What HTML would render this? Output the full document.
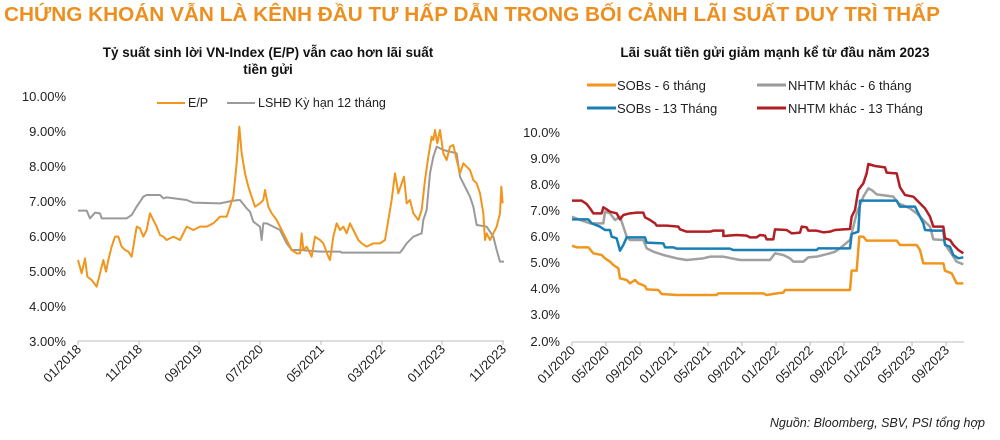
<!DOCTYPE html>
<html><head><meta charset="utf-8"><style>
body{margin:0;background:#fff;}
svg{display:block;font-family:"Liberation Sans",Arial,sans-serif;}
</style></head><body>
<svg width="1000" height="440" viewBox="0 0 1000 440">
<text x="4" y="21" font-size="20" font-weight="bold" fill="#ec8f1f" textLength="936" lengthAdjust="spacingAndGlyphs">CHỨNG KHOÁN VẪN LÀ KÊNH ĐẦU TƯ HẤP DẪN TRONG BỐI CẢNH LÃI SUẤT DUY TRÌ THẤP</text>
<text x="268" y="57" font-size="13.5" font-weight="bold" text-anchor="middle" fill="#111">Tỷ suất sinh lời VN-Index (E/P) vẫn cao hơn lãi suất</text>
<text x="268" y="74" font-size="13.5" font-weight="bold" text-anchor="middle" fill="#111">tiền gửi</text>
<text x="775" y="57" font-size="13.5" font-weight="bold" text-anchor="middle" fill="#111">Lãi suất tiền gửi giảm mạnh kể từ đầu năm 2023</text>

<g font-size="13" fill="#222" text-anchor="end">
<text x="66" y="101">10.00%</text><text x="66" y="136">9.00%</text><text x="66" y="171">8.00%</text><text x="66" y="206">7.00%</text><text x="66" y="241">6.00%</text><text x="66" y="276">5.00%</text><text x="66" y="311">4.00%</text><text x="66" y="346">3.00%</text>
</g>
<line x1="78" y1="341" x2="504" y2="341" stroke="#bbb" stroke-width="1"/>
<g stroke="#bbb"><line x1="78" y1="341" x2="78" y2="345"/><line x1="139" y1="341" x2="139" y2="345"/><line x1="199" y1="341" x2="199" y2="345"/><line x1="260" y1="341" x2="260" y2="345"/><line x1="321" y1="341" x2="321" y2="345"/><line x1="382" y1="341" x2="382" y2="345"/><line x1="442" y1="341" x2="442" y2="345"/><line x1="503" y1="341" x2="503" y2="345"/></g>
<g font-size="13" fill="#222" text-anchor="end">
<text transform="translate(82,350) rotate(-45)">01/2018</text>
<text transform="translate(143,350) rotate(-45)">11/2018</text>
<text transform="translate(203,350) rotate(-45)">09/2019</text>
<text transform="translate(264,350) rotate(-45)">07/2020</text>
<text transform="translate(325,350) rotate(-45)">05/2021</text>
<text transform="translate(386,350) rotate(-45)">03/2022</text>
<text transform="translate(446,350) rotate(-45)">01/2023</text>
<text transform="translate(507,350) rotate(-45)">11/2023</text>
</g>
<line x1="157" y1="103" x2="185" y2="103" stroke="#f0961e" stroke-width="2"/>
<text x="188" y="107" font-size="12.5" fill="#222">E/P</text>
<line x1="227" y1="103" x2="255" y2="103" stroke="#9a9a9a" stroke-width="2"/>
<text x="258" y="107" font-size="12.5" fill="#222">LSHĐ Kỳ hạn 12 tháng</text>

<g transform="translate(0,80) scale(0.33333)" fill="none" stroke-linejoin="round">
<polyline vector-effect="non-scaling-stroke" stroke="#9a9a9a" stroke-width="2" points="234,392 260,392 270,415 285,398 300,400 305,415 380,415 395,405 410,380 430,350 440,345 480,345 490,355 500,352 560,360 580,368 660,370 700,362 720,360 740,385 750,395 760,425 780,440 785,480 790,430 800,430 810,435 820,440 840,450 860,490 875,510 900,510 960,515 1020,515 1025,518 1200,518 1210,505 1220,490 1240,470 1265,460 1270,420 1280,390 1290,280 1300,230 1310,200 1330,210 1370,220 1380,290 1400,330 1410,350 1420,380 1430,435 1460,440 1480,470 1490,510 1500,545 1512,545"/>
<polyline vector-effect="non-scaling-stroke" stroke="#f0961e" stroke-width="2" points="234,540 245,580 255,535 262,590 275,600 290,620 300,580 310,540 318,575 325,540 335,500 345,470 355,470 365,500 375,510 385,515 395,530 405,470 410,440 420,445 430,470 440,450 450,400 460,420 470,440 480,465 490,470 500,480 520,470 540,480 560,440 580,450 600,440 620,440 640,430 660,410 680,410 690,380 700,350 710,250 718,140 725,220 735,280 745,320 755,350 765,380 780,370 790,360 795,330 805,380 815,400 830,420 845,450 860,480 875,510 890,520 900,520 905,460 910,510 920,500 935,530 945,470 960,480 970,490 985,530 990,540 1000,470 1010,430 1020,450 1030,440 1040,460 1050,430 1060,450 1075,480 1085,490 1100,500 1120,490 1140,490 1155,480 1165,420 1175,360 1185,280 1195,340 1205,310 1212,290 1220,370 1230,360 1240,400 1255,420 1265,390 1275,300 1285,230 1295,170 1300,180 1305,150 1312,190 1320,150 1330,220 1340,240 1350,200 1360,195 1370,240 1380,280 1390,250 1400,260 1410,270 1420,300 1430,310 1440,340 1450,400 1455,480 1460,460 1470,480 1480,460 1490,440 1500,400 1504,320 1508,370"/>
</g>

<g font-size="13" fill="#222" text-anchor="end">
<text x="560" y="137">10.0%</text><text x="560" y="163">9.0%</text><text x="560" y="189">8.0%</text><text x="560" y="215">7.0%</text><text x="560" y="241">6.0%</text><text x="560" y="267">5.0%</text><text x="560" y="293">4.0%</text><text x="560" y="319">3.0%</text><text x="560" y="346">2.0%</text>
</g>
<line x1="572" y1="342" x2="964" y2="342" stroke="#bbb"/>
<g stroke="#bbb"><line x1="572" y1="342" x2="572" y2="346"/><line x1="606" y1="342" x2="606" y2="346"/><line x1="640" y1="342" x2="640" y2="346"/><line x1="674" y1="342" x2="674" y2="346"/><line x1="708" y1="342" x2="708" y2="346"/><line x1="742" y1="342" x2="742" y2="346"/><line x1="776" y1="342" x2="776" y2="346"/><line x1="810" y1="342" x2="810" y2="346"/><line x1="844" y1="342" x2="844" y2="346"/><line x1="878" y1="342" x2="878" y2="346"/><line x1="912" y1="342" x2="912" y2="346"/><line x1="946" y1="342" x2="946" y2="346"/></g>
<g font-size="13" fill="#222" text-anchor="end">
<text transform="translate(576,351) rotate(-45)">01/2020</text>
<text transform="translate(610,351) rotate(-45)">05/2020</text>
<text transform="translate(644,351) rotate(-45)">09/2020</text>
<text transform="translate(678,351) rotate(-45)">01/2021</text>
<text transform="translate(712,351) rotate(-45)">05/2021</text>
<text transform="translate(746,351) rotate(-45)">09/2021</text>
<text transform="translate(780,351) rotate(-45)">01/2022</text>
<text transform="translate(814,351) rotate(-45)">05/2022</text>
<text transform="translate(848,351) rotate(-45)">09/2022</text>
<text transform="translate(882,351) rotate(-45)">01/2023</text>
<text transform="translate(916,351) rotate(-45)">05/2023</text>
<text transform="translate(950,351) rotate(-45)">09/2023</text>
</g>
<g font-size="13" fill="#222">
<line x1="587" y1="85" x2="616" y2="85" stroke="#f0961e" stroke-width="3"/><text x="617" y="90">SOBs - 6 tháng</text>
<line x1="757" y1="85" x2="786" y2="85" stroke="#9a9a9a" stroke-width="3"/><text x="788" y="90">NHTM khác - 6 tháng</text>
<line x1="587" y1="108" x2="616" y2="108" stroke="#1a7fb5" stroke-width="3"/><text x="617" y="113">SOBs - 13 Tháng</text>
<line x1="757" y1="108" x2="786" y2="108" stroke="#b01f24" stroke-width="3"/><text x="788" y="113">NHTM khác - 13 Tháng</text>
</g>
<g transform="translate(510,80) scale(0.33333)" fill="none" stroke-linejoin="round">
<polyline vector-effect="non-scaling-stroke" stroke="#f0961e" stroke-width="2.5" points="186,497 200,502 235,502 250,520 275,525 285,535 300,545 310,555 325,565 330,595 350,600 360,610 375,600 385,610 405,618 410,628 445,630 455,642 500,645 620,645 625,640 760,640 770,645 800,640 820,638 825,630 1020,630 1025,572 1040,572 1048,470 1060,470 1070,482 1160,482 1170,495 1220,495 1230,510 1240,550 1300,550 1305,572 1325,580 1340,610 1360,610"/>
<polyline vector-effect="non-scaling-stroke" stroke="#a0a0a0" stroke-width="2.5" points="186,410 210,420 240,430 280,430 285,395 300,400 315,420 330,410 340,440 350,470 360,480 400,480 410,505 430,515 460,525 500,535 530,540 580,535 600,530 640,530 690,540 780,540 795,520 820,525 840,535 850,545 880,545 895,532 920,530 960,520 975,515 990,505 1020,480 1040,400 1060,350 1075,325 1085,330 1100,343 1150,350 1165,370 1200,385 1220,400 1240,420 1260,440 1270,478 1300,480 1310,500 1330,530 1340,545 1360,553"/>
<polyline vector-effect="non-scaling-stroke" stroke="#1a7fb5" stroke-width="2.5" points="186,418 235,418 245,430 270,440 285,450 300,450 305,470 320,475 330,512 340,495 350,472 405,472 410,488 460,490 465,502 490,502 500,506 660,506 670,510 920,510 925,505 1020,505 1025,462 1045,455 1050,362 1160,362 1170,380 1215,380 1225,400 1240,430 1245,450 1270,452 1300,452 1305,495 1320,500 1330,525 1345,535 1360,532"/>
<polyline vector-effect="non-scaling-stroke" stroke="#b01f24" stroke-width="2.5" points="186,362 215,362 230,372 240,385 250,400 275,400 280,382 290,388 300,395 320,400 330,418 340,405 360,400 380,398 400,398 405,412 420,420 435,430 440,437 470,437 505,440 510,448 530,455 600,455 610,452 640,452 640,468 680,465 710,467 720,472 740,472 750,465 765,467 770,478 790,478 795,448 830,450 845,460 870,458 875,440 890,442 895,452 920,452 940,457 960,455 975,450 1000,448 1020,447 1025,410 1035,390 1045,330 1060,310 1070,280 1075,252 1095,258 1125,262 1130,278 1160,280 1170,322 1185,345 1210,350 1230,370 1245,385 1260,410 1270,440 1300,440 1305,475 1320,480 1330,495 1345,510 1360,520"/>
</g>
<text x="985" y="427" font-size="12.5" font-style="italic" text-anchor="end" fill="#222">Nguồn: Bloomberg, SBV,  PSI tổng hợp</text>
</svg>
</body></html>
